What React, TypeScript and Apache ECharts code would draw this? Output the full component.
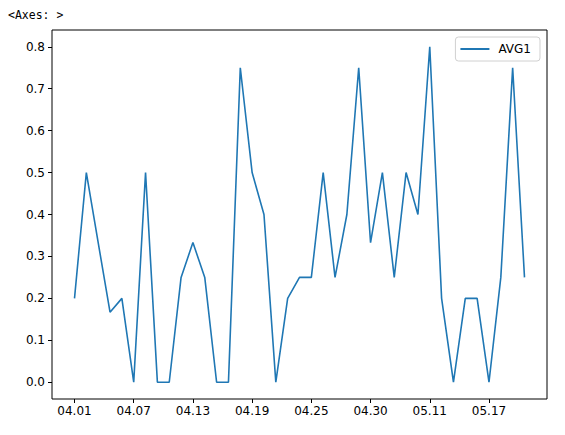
import React, { useEffect, useRef } from "react";
import * as echarts from "echarts";

const dates = [
  "04.01", "04.02", "04.03", "04.05", "04.06",
  "04.07", "04.08", "04.09", "04.10", "04.12",
  "04.13", "04.14", "04.15", "04.16", "04.18",
  "04.19", "04.20", "04.21", "04.22", "04.24",
  "04.25", "04.26", "04.27", "04.28", "04.29",
  "04.30", "05.02", "05.03", "05.08", "05.09",
  "05.11", "05.12", "05.13", "05.15", "05.16",
  "05.17", "05.18", "05.19", "05.20",
];

const avg1 = [
  0.2, 0.5, 0.333, 0.167, 0.2,
  0, 0.5, 0, 0, 0.25,
  0.333, 0.25, 0, 0, 0.75,
  0.5, 0.4, 0, 0.2, 0.25,
  0.25, 0.5, 0.25, 0.4, 0.75,
  0.333, 0.5, 0.25, 0.5, 0.4,
  0.8, 0.2, 0, 0.2, 0.2,
  0, 0.25, 0.75, 0.25,
];

const xTickIdx = [0, 5, 10, 15, 20, 25, 30, 35];
const yTicks = [0, 0.1, 0.2, 0.3, 0.4, 0.5, 0.6, 0.7, 0.8];

export default function App() {
  const ref = useRef<HTMLDivElement>(null);
  useEffect(() => {
    const chart = echarts.init(ref.current!, null, { renderer: "svg" });
    const font = "DejaVu Sans";
    const n = dates.length;
    const xm = (n - 1) * 0.05;
    const ymax = Math.max(...avg1);
    const ym = ymax * 0.05;
    chart.setOption({
      animation: false,
      title: {
        text: "<Axes: >",
        left: 3,
        top: 4,
        textStyle: { fontFamily: "DejaVu Sans Mono", fontSize: 11.5, fontWeight: "normal", color: "#000" },
      },
      grid: {
        left: 52,
        right: 18,
        top: 30,
        bottom: 36,
        show: true,
        borderColor: "#000",
        borderWidth: 1,
        containLabel: false,
      },
      legend: {
        data: ["AVG1"],
        right: 25,
        top: 37,
        icon: "rect",
        itemWidth: 29,
        itemHeight: 2,
        itemGap: 8,
        padding: [6, 9, 6, 5],
        borderColor: "#d0d0d0",
        borderWidth: 1,
        borderRadius: 3,
        textStyle: { fontFamily: font, fontSize: 12, color: "#000", padding: [0, 0, 0, 4] },
      },
      xAxis: {
        type: "value",
        min: -xm,
        max: n - 1 + xm,
        splitLine: { show: false },
        axisLine: { show: false, onZero: false },
        axisTick: { show: true, length: 4, lineStyle: { color: "#000" }, customValues: xTickIdx },
        axisLabel: {
          customValues: xTickIdx,
          formatter: (v: number) => dates[Math.round(v)],
          fontFamily: font,
          fontSize: 12,
          color: "#000",
          margin: 6,
        },
      },
      yAxis: {
        type: "value",
        min: -ym,
        max: ymax + ym,
        splitLine: { show: false },
        axisLine: { show: false, onZero: false },
        axisTick: { show: true, length: 4, lineStyle: { color: "#000" }, customValues: yTicks },
        axisLabel: {
          customValues: yTicks,
          formatter: (v: number) => v.toFixed(1),
          fontFamily: font,
          fontSize: 12,
          color: "#000",
          margin: 7,
        },
      },
      series: [
        {
          name: "AVG1",
          type: "line",
          data: avg1.map((v, i) => [i, v]),
          showSymbol: false,
          symbol: "none",
          lineStyle: { color: "#1f77b4", width: 1.6 },
          itemStyle: { color: "#1f77b4" },
        },
      ],
    });
    return () => chart.dispose();
  }, []);
  return <div ref={ref} style={{ width: 565, height: 435, position: "absolute", left: 0, top: 0 }} />;
}
